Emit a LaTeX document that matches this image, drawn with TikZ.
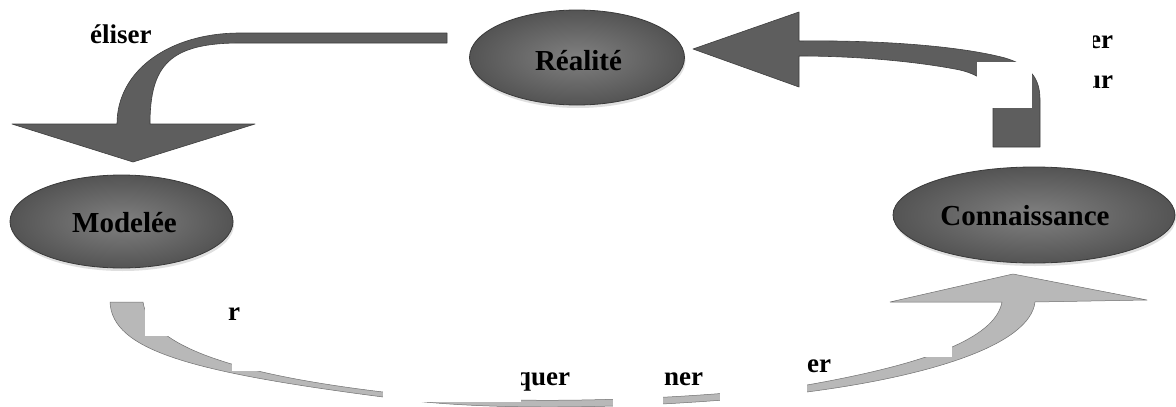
\documentclass[tikz,border=0pt]{standalone}
\usepackage{fontspec}
\setmainfont{Liberation Serif}
\usetikzlibrary{shapes.geometric,shadows}
\definecolor{ellin}{RGB}{128,128,128}
\definecolor{ellout}{RGB}{84,84,84}
\definecolor{elledge}{RGB}{58,58,58}
\definecolor{darkarrow}{RGB}{94,94,94}
\definecolor{darkedge}{RGB}{62,62,62}
\definecolor{lightarrow}{RGB}{184,184,184}
\definecolor{lightedge}{RGB}{112,112,112}
\begin{document}
\begin{tikzpicture}[x=1pt,y=-1pt,
  state/.style={ellipse, draw=elledge, line width=0.8pt, inner color=ellin,
    outer color=ellout, inner sep=0pt,
    drop shadow={opacity=0.25, shadow xshift=1pt, shadow yshift=-3pt}},
  statetext/.style={font=\bfseries\fontsize{29}{34}\selectfont, anchor=base, inner sep=0pt},
  cue/.style={font=\bfseries\fontsize{27}{32}\selectfont, anchor=base west, inner sep=0pt},
  darkflow/.style={fill=darkarrow, draw=darkedge, line width=0.6pt, line join=round},
  lightflow/.style={fill=lightarrow, draw=lightedge, line width=0.5pt, line join=round},
  blank/.style={fill=white, draw=none}]
\useasboundingbox (0,0) rectangle (1176,407);
\fill[white] (0,0) rectangle (1176,407);

% curved block arrow: Realite -> Modelee
\draw[darkflow] (447,33) -- (240,33) .. controls (170,33) and (117,70) .. (117,124)
  -- (12,124) -- (133,162) -- (255,124) -- (150,124)
  .. controls (150,65) and (170,43) .. (240,43) -- (447,43) -- cycle;

% bent block arrow: Connaissance -> Realite
\draw[darkflow] (799,41) .. controls (880,40) and (960,46) .. (1005,58)
  .. controls (1032,66) and (1040,80) .. (1040,100) -- (1040,147) -- (993,147)
  -- (993,100) .. controls (993,88) and (985,76) .. (960,70)
  .. controls (920,62) and (860,56) .. (799,56) -- (799,87) -- (693,49)
  -- (799,12) -- cycle;

% long swept arrow: Modelee -> Connaissance
\draw[lightflow] (110,302) .. controls (112,350) and (190,372) .. (383,397)
  .. controls (480,412) and (650,410) .. (807,392)
  .. controls (930,376) and (1030,345) .. (1035,302)
  -- (1147,300) -- (1013,274) -- (890,302) -- (1002,302)
  .. controls (995,340) and (920,365) .. (807,385)
  .. controls (650,404) and (480,404) .. (383,392)
  .. controls (250,376) and (150,350) .. (143,302) -- cycle;

% states
\node[state, minimum width=215pt, minimum height=95pt] (real) at (577,57.5) {};
\node[state, minimum width=223pt, minimum height=93pt] (model) at (121.5,221.5) {};
\node[state, minimum width=282pt, minimum height=96pt] (know) at (1034,215) {};
\node[statetext] (realtxt) at (578.5,70) {Réalité};
\node[statetext] (modeltxt) at (124.5,232) {Modelée};
\node[statetext] (knowtxt) at (1025,225) {Connaissance};

% labels
\node[cue] (lab1) at (90,43) {éliser};
\node[cue] (lab2) at (1089,48) {er};
\node[cue] (lab3) at (1086,88) {ur};
\node[cue] (lab4) at (228,320) {r};
\node[cue] (lab5) at (516,385) {quer};
\node[cue] (lab6) at (664,385) {ner};
\node[cue] (lab7) at (807,372) {er};

% blank label boxes
\fill[blank] (977,62) rectangle (1032,108);
\fill[blank] (1050,20) rectangle (1093,100);
\fill[blank] (145,292) rectangle (226,336);
\fill[blank] (232,336) rectangle (383,371);
\fill[blank] (383,330) rectangle (521,402);
\fill[blank] (613,340) rectangle (663,407);
\fill[blank] (720,345) rectangle (807,407);
\fill[blank] (807,307) rectangle (952,357);
\end{tikzpicture}
\end{document}
